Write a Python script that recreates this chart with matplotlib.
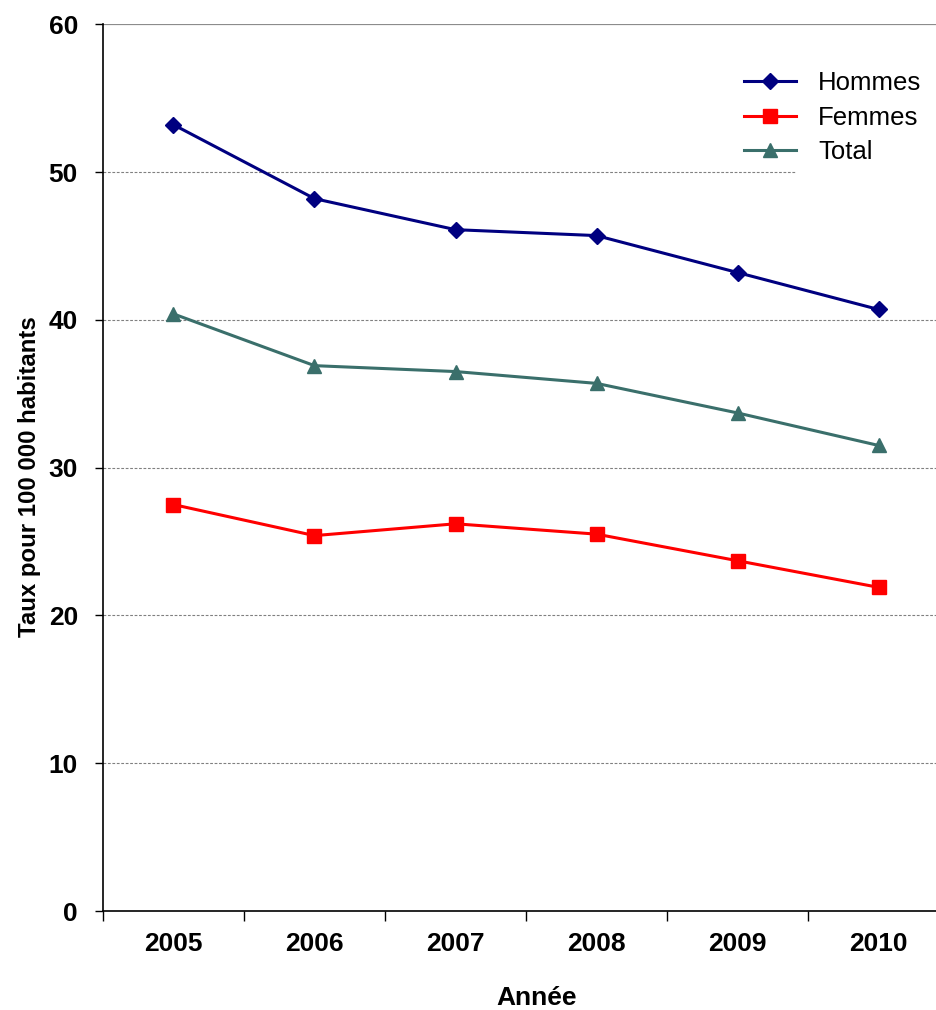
import matplotlib
matplotlib.use("Agg")
import matplotlib.pyplot as plt

plt.rcParams['font.family'] = ['Liberation Sans', 'DejaVu Sans']

# data
annees = ['2005', '2006', '2007', '2008', '2009', '2010']
hommes = [53.2, 48.2, 46.1, 45.7, 43.2, 40.7]
femmes = [27.5, 25.4, 26.2, 25.5, 23.7, 21.9]
total = [40.4, 36.9, 36.5, 35.7, 33.7, 31.5]
y_ticks = [0, 10, 20, 30, 40, 50, 60]

fig = plt.figure(figsize=(9.36, 10.1), dpi=100)
ax = fig.add_axes([0.110, 0.098, 0.904, 0.878])

x = list(range(len(annees)))

# gridlines (the one at 50 stops behind the legend)
for v in y_ticks[1:-1]:
    xmax = 0.818 if v == 50 else 1.0
    ax.axhline(v, xmin=0, xmax=xmax, color='#808080', lw=0.8,
               ls=(0, (2.5, 1.5)), zorder=0)
ax.axhline(60, color='#8c8c8c', lw=1.6, zorder=0)

ax.plot(x, hommes, color='#000080', lw=2.2, marker='D', ms=8, label='Hommes')
ax.plot(x, femmes, color='#ff0000', lw=2.2, marker='s', ms=10, label='Femmes')
ax.plot(x, total, color='#3a6f6b', lw=2.2, marker='^', ms=10, label='Total')

ax.set_xlim(-0.5, 5.5)
ax.set_ylim(0, 60)
ax.set_yticks(y_ticks)
ax.set_xticks(x)
ax.set_xticklabels(annees)
ax.set_xticks([i - 0.5 for i in range(len(annees) + 1)], minor=True)

ax.tick_params(axis='x', which='major', length=0, pad=15, labelsize=19)
ax.tick_params(axis='x', which='minor', length=7, width=1, direction='out')
ax.tick_params(axis='y', length=6, width=1, direction='out', pad=12, labelsize=19)
for lbl in ax.get_xticklabels() + ax.get_yticklabels():
    lbl.set_fontweight('bold')

for side in ['top', 'right']:
    ax.spines[side].set_visible(False)
for side in ['left', 'bottom']:
    ax.spines[side].set_linewidth(1.2)
    ax.spines[side].set_color('#000000')

ax.set_ylabel('Taux pour 100 000 habitants', fontsize=17.3, fontweight='bold')
ax.set_xlabel('Année', fontsize=19, fontweight='bold')
ax.yaxis.set_label_coords(-0.073, 0.490)
ax.xaxis.set_label_coords(0.512, -0.084)

ax.legend(loc='upper left', bbox_to_anchor=(0.73, 0.973), frameon=False,
          fontsize=18.5, handlelength=2.05, handletextpad=0.85, labelspacing=0.40)

fig.savefig('out.png', dpi=100)
